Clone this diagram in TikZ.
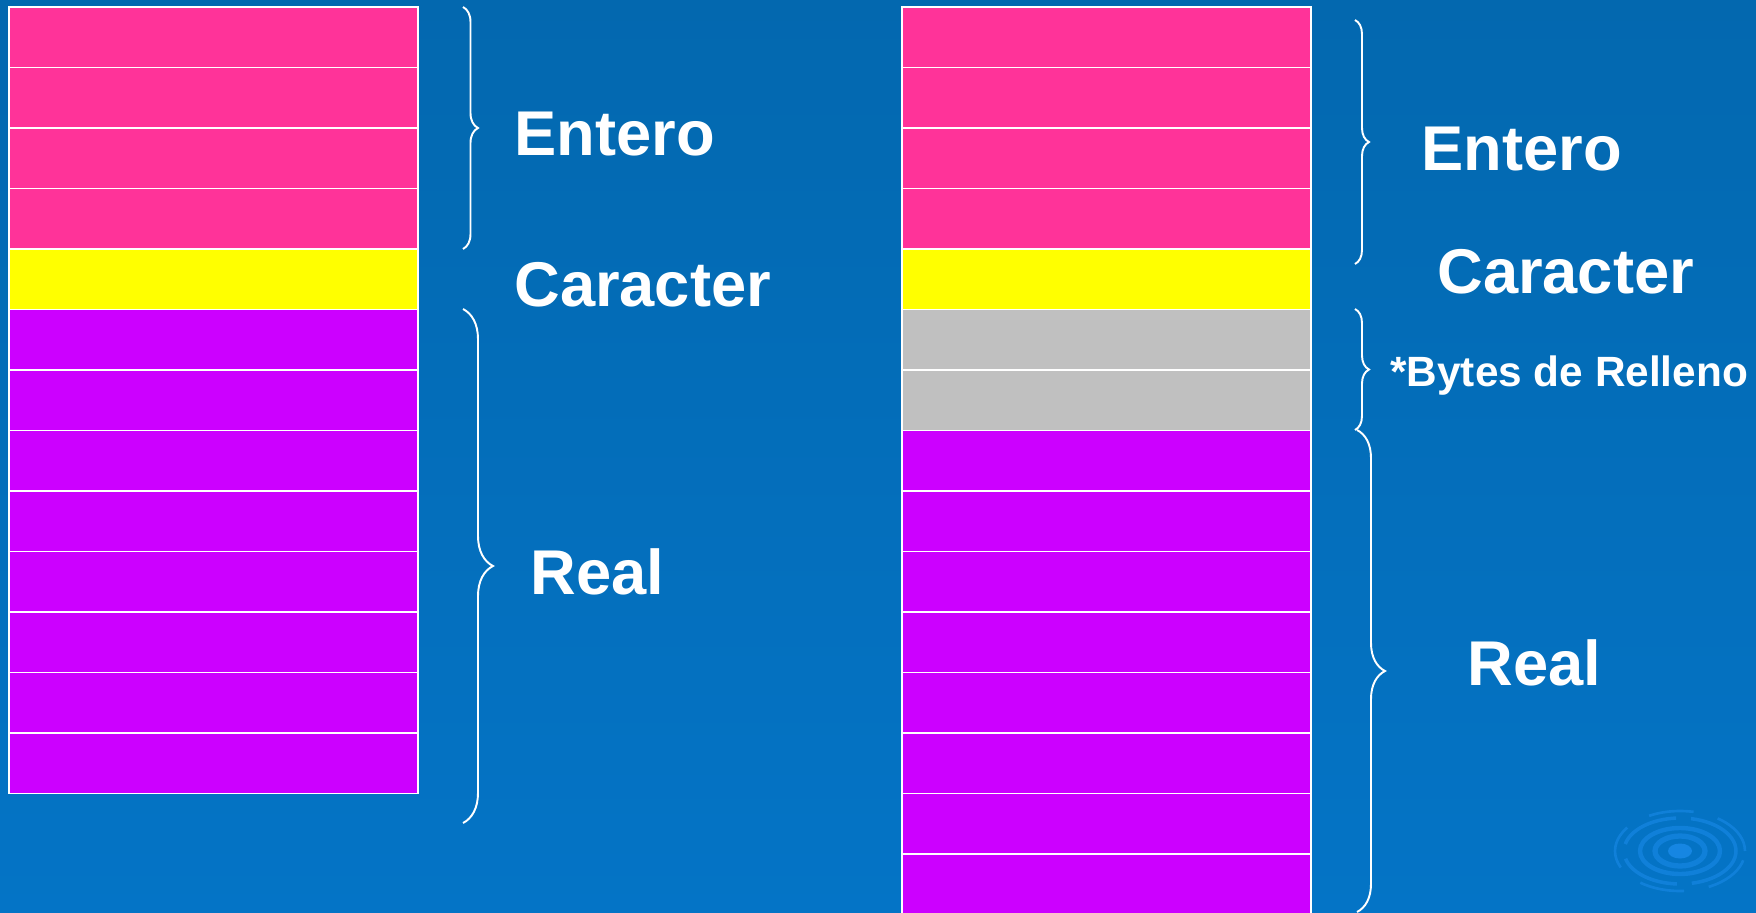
\documentclass[tikz,border=0pt]{standalone}
\usepackage{fontspec}
\setmainfont{Liberation Sans}
\usetikzlibrary{
  positioning,
  decorations.pathreplacing
}
\definecolor{slideblue}{RGB}{3, 104, 175}
\definecolor{slidebluelow}{RGB}{4, 116, 198}
\definecolor{rippleblue}{RGB}{22, 134, 226}
\definecolor{intpink}{RGB}{255, 51, 153}
\definecolor{charyellow}{RGB}{255, 255, 0}
\definecolor{realpurple}{RGB}{204, 0, 255}
\definecolor{padgray}{RGB}{192, 192, 192}

\begin{document}
\begin{tikzpicture}[
  x=0.02cm, y=-0.02cm,
  cell/.style={draw=white, line width=0.9pt, inner sep=0pt, outer sep=0pt,
               minimum width=8.18cm, minimum height=1.21cm},
  intcell/.style={cell, fill=intpink},
  charcell/.style={cell, fill=charyellow},
  padcell/.style={cell, fill=padgray},
  realcell/.style={cell, fill=realpurple},
  bigtag/.style={text=white, inner sep=0pt, anchor=base west,
                 font=\bfseries\fontsize{36}{40}\selectfont},
  smalltag/.style={text=white, inner sep=0pt, anchor=base west,
                   font=\bfseries\fontsize{24.1}{28}\selectfont},
  bracepath/.style={draw=white, line width=1.1pt, decorate,
                    decoration={brace, amplitude=#1}},
  ring/.style={draw=rippleblue, opacity=0.7}
]

\useasboundingbox (0,0) rectangle (1756,913);
\fill[top color=slideblue, bottom color=slidebluelow] (0,0) rectangle (1756,913);

% ripple mark
\fill[rippleblue] (1680,851) ellipse [x radius=0.24cm, y radius=0.15cm];
\draw[ring, line width=3pt] (1680,851) ellipse [x radius=0.5cm, y radius=0.3cm];
\draw[ring, line width=2.5pt] (1680,851) ellipse [x radius=0.8cm, y radius=0.46cm];
\draw[ring, line width=2pt, dash pattern=on 1.2cm off 0.3cm] (1680,851) ellipse [x radius=1.12cm, y radius=0.66cm];
\draw[ring, line width=1.5pt, dash pattern=on 0.9cm off 0.5cm] (1680,851) ellipse [x radius=1.3cm, y radius=0.8cm];

% left layout: no padding
\node[intcell, anchor=north west] (l1) at (9,7) {};
\node[intcell, below=0pt of l1] (l2) {};
\node[intcell, below=0pt of l2] (l3) {};
\node[intcell, below=0pt of l3] (l4) {};
\node[charcell, below=0pt of l4] (l5) {};
\node[realcell, below=0pt of l5] (l6) {};
\node[realcell, below=0pt of l6] (l7) {};
\node[realcell, below=0pt of l7] (l8) {};
\node[realcell, below=0pt of l8] (l9) {};
\node[realcell, below=0pt of l9] (l10) {};
\node[realcell, below=0pt of l10] (l11) {};
\node[realcell, below=0pt of l11] (l12) {};
\node[realcell, below=0pt of l12] (l13) {};

% right layout: with padding bytes
\node[intcell, anchor=north west] (r1) at (902,7) {};
\node[intcell, below=0pt of r1] (r2) {};
\node[intcell, below=0pt of r2] (r3) {};
\node[intcell, below=0pt of r3] (r4) {};
\node[charcell, below=0pt of r4] (r5) {};
\node[padcell, below=0pt of r5] (r6) {};
\node[padcell, below=0pt of r6] (r7) {};
\node[realcell, below=0pt of r7] (r8) {};
\node[realcell, below=0pt of r8] (r9) {};
\node[realcell, below=0pt of r9] (r10) {};
\node[realcell, below=0pt of r10] (r11) {};
\node[realcell, below=0pt of r11] (r12) {};
\node[realcell, below=0pt of r12] (r13) {};
\node[realcell, below=0pt of r13] (r14) {};
\node[realcell, below=0pt of r14] (r15) {};

% brace ends
\coordinate (lent-a) at (463,7);     \coordinate (lent-b) at (463,249);
\coordinate (lreal-a) at (463,309);  \coordinate (lreal-b) at (463,823);
\coordinate (rent-a) at (1355,20);   \coordinate (rent-b) at (1355,264);
\coordinate (rpad-a) at (1355,309);  \coordinate (rpad-b) at (1355,430);
\coordinate (rreal-a) at (1357,430); \coordinate (rreal-b) at (1357,912);

\draw[bracepath=0.3cm] (lent-a) -- (lent-b);
\draw[bracepath=0.6cm] (lreal-a) -- (lreal-b);
\draw[bracepath=0.28cm] (rent-a) -- (rent-b);
\draw[bracepath=0.28cm] (rpad-a) -- (rpad-b);
\draw[bracepath=0.56cm] (rreal-a) -- (rreal-b);

\node[bigtag] (lent) at (514,155) {Entero};
\node[bigtag] (lchar) at (514,306) {Caracter};
\node[bigtag] (lreal) at (530,594) {Real};

\node[bigtag] (rent) at (1421,170) {Entero};
\node[bigtag] (rchar) at (1437,293) {Caracter};
\node[smalltag] (rpad) at (1390,386) {*Bytes de Relleno};
\node[bigtag] (rreal) at (1467,685) {Real};

\end{tikzpicture}
\end{document}
